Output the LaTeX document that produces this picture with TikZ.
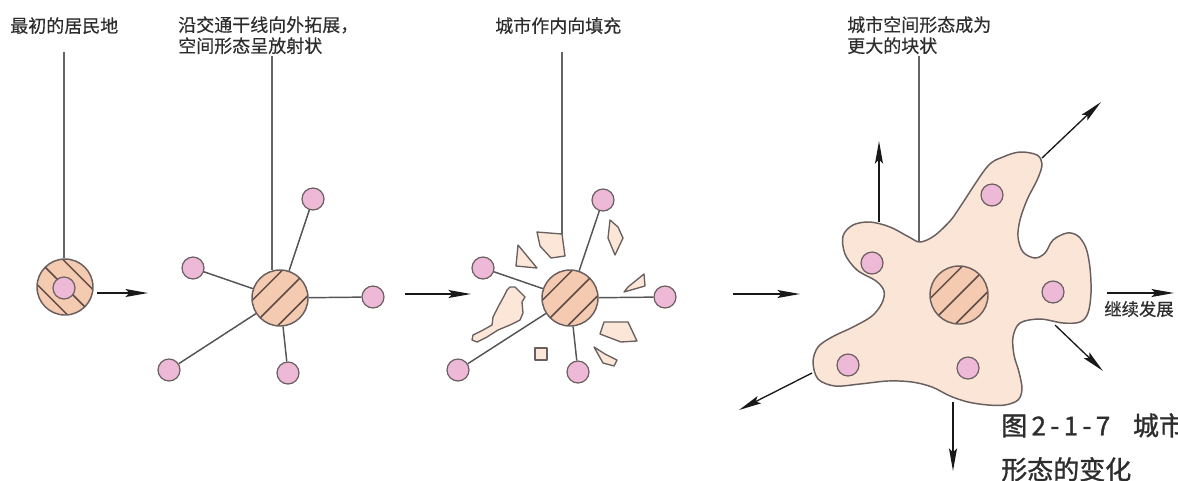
\documentclass[tikz,border=0pt]{standalone}
\usepackage{fontspec}
\setmainfont{Noto Sans CJK SC}
\newfontfamily\lblfont[FakeBold=0.4]{Noto Sans CJK SC}
\newfontfamily\capfont[FakeBold=1.2]{Noto Sans CJK SC}
\usetikzlibrary{arrows.meta,calc}
\definecolor{peach}{RGB}{244,202,176}
\definecolor{blobfill}{RGB}{251,229,214}
\definecolor{fragfill}{RGB}{251,230,216}
\definecolor{pinkc}{RGB}{238,184,215}
\definecolor{edge}{RGB}{105,95,95}
\definecolor{hatchcol}{RGB}{95,75,70}
\definecolor{conncol}{RGB}{85,85,85}
\definecolor{leadcol}{RGB}{100,100,100}
\definecolor{arrcol}{RGB}{25,25,25}
\definecolor{txt}{RGB}{45,45,45}
\begin{document}
\begin{tikzpicture}[x=0.75pt,y=-0.75pt,
  hub/.style={circle, draw=edge, fill=peach, line width=1.1pt, minimum size=42pt, inner sep=0pt},
  bighub/.style={hub, minimum size=43.5pt},
  hatchline/.style={draw=hatchcol, line width=1.1pt},
  hatchR/.style={path picture={\foreach \d in {-18,0,18}{\draw[hatchline] ([shift={({\d*0.707-34},{\d*0.707+34})}]path picture bounding box.center) -- ([shift={({\d*0.707+34},{\d*0.707-34})}]path picture bounding box.center);}}},
  hatchL/.style={path picture={\foreach \d in {-18,0,18}{\draw[hatchline] ([shift={({\d*0.707-34},{-\d*0.707-34})}]path picture bounding box.center) -- ([shift={({\d*0.707+34},{-\d*0.707+34})}]path picture bounding box.center);}}},
  sat/.style={circle, draw=edge, fill=pinkc, line width=0.9pt, minimum size=16.5pt, inner sep=0pt},
  conn/.style={draw=conncol, line width=1.1pt},
  lead/.style={draw=leadcol, line width=0.9pt},
  arr/.style={draw=arrcol, line width=1pt, -{Stealth[length=17pt,width=6pt,inset=3pt]}},
  frag/.style={draw=edge, fill=fragfill, line width=1pt, line join=round},
  blobst/.style={draw=edge, fill=blobfill, line width=1.1pt},
  lbl/.style={font=\lblfont\fontsize{13.5}{15.75}\selectfont, text=txt, inner sep=0pt, align=left, anchor=north west},
  caption/.style={font=\capfont\fontsize{19.5}{33}\selectfont, text=txt, inner sep=0pt, align=left, anchor=north west}
]
\useasboundingbox (0,0) rectangle (1178,480);

% ---------- Stage 1 ----------
\node[hub, hatchL] (h1) at (65,287) {};
\node[sat] (c1) at (64,288) {};
\node[lbl] (t1) at (10,17) {最初的居民地};
\coordinate (l1) at (64,52);
\draw[lead] (l1) -- (l1 |- h1.north);
\coordinate (a1s) at (97,293);
\coordinate (a1e) at (148,293);
\draw[arr] (a1s) -- (a1e);

% ---------- Stage 2 ----------
\node[hub, hatchR] (h2) at (280,298) {};
\node[sat] (s2a) at (313,199) {};
\node[sat] (s2b) at (193,268) {};
\node[sat] (s2c) at (373,297) {};
\node[sat] (s2d) at (169,370) {};
\node[sat] (s2e) at (288,373) {};
\foreach \s in {s2a,s2b,s2c,s2d,s2e} \draw[conn] (h2) -- (\s);
\node[lbl] (t2) at (178,16) {沿交通干线向外拓展，\\空间形态呈放射状};
\coordinate (l2) at (272,56);
\draw[lead] (l2) -- (l2 |- h2.106);
\coordinate (a2s) at (405,294);
\coordinate (a2e) at (471,294);
\draw[arr] (a2s) -- (a2e);

% ---------- Stage 3 ----------
\draw[frag] (537,232) -- (562,234) -- (565,256) -- (551,258) -- (540,246) -- cycle;
\coordinate (f1top) at (562,234);
\draw[frag] (518,245) -- (537,268) -- (516,266) -- cycle;
\draw[frag] (610,220) -- (618,227) -- (623,238) -- (615,255) -- (608,238) -- cycle;
\draw[frag] (644,274) -- (645,286) -- (624,292) -- (628,287) -- cycle;
\draw[frag] (604,322) -- (628,322) -- (637,341) -- (621,342) -- (600,334) -- cycle;
\draw[frag] (594,347) -- (605,354) -- (617,360) -- (614,366) -- (603,363) -- cycle;
\draw[frag] (535,348) rectangle (547,360);
\draw[frag] (510,287) -- (515,287) -- (520,292) -- (525,297) -- (522,302) -- (523,313) -- (520,320) -- (510,325) -- (498,330) -- (487,337) -- (477,342) -- (472,340) -- (473,335) -- (483,330) -- (492,325) -- (493,317) -- (498,307) -- (503,298) -- (507,290) -- cycle;
\node[hub, hatchR] (h3) at (570,298) {};
\node[sat] (s3a) at (603,200) {};
\node[sat] (s3b) at (483,268) {};
\node[sat] (s3c) at (665,297) {};
\node[sat] (s3d) at (458,370) {};
\node[sat] (s3e) at (578,372) {};
\foreach \s in {s3a,s3b,s3c,s3d,s3e} \draw[conn] (h3) -- (\s);
\node[lbl] (t3) at (495,17) {城市作内向填充};
\coordinate (l3) at (562,52);
\draw[lead] (l3) -- (f1top);
\coordinate (a3s) at (733,294);
\coordinate (a3e) at (800,294);
\draw[arr] (a3s) -- (a3e);

% ---------- Stage 4 ----------
\draw[blobst] plot[smooth cycle, tension=0.55] coordinates {
 (960,207) (987,167) (1003,157) (1020,152) (1037,155) (1042,164) (1038,178)
 (1027,200) (1020,220) (1018,237) (1023,252) (1035,258) (1045,253) (1053,240)
 (1067,233) (1078,236) (1086,248) (1090,268) (1091,293) (1088,313) (1080,322)
 (1063,323) (1040,319) (1020,323) (1013,337) (1014,355) (1019,372) (1022,389)
 (1018,400) (1005,405) (988,405) (968,402) (950,396) (932,387) (912,382)
 (888,381) (860,384) (835,386) (818,379) (813,362) (818,347) (832,337)
 (853,327) (872,316) (882,303) (884,291) (876,281) (857,270) (845,254)
 (843,236) (853,225) (870,222) (890,227) (909,237) (920,242) (934,236) (950,221)};
\coordinate (b4top) at (919,242);
\node[bighub, hatchR] (h4) at (959,295) {};
\node[sat] (s4a) at (992,195) {};
\node[sat] (s4b) at (872,263) {};
\node[sat] (s4c) at (1053,292) {};
\node[sat] (s4d) at (848,365) {};
\node[sat] (s4e) at (968,368) {};
\node[lbl] (t4) at (847,16) {城市空间形态成为\\更大的块状};
\coordinate (l4) at (919,56);
\draw[lead] (l4) -- (b4top);
\coordinate (e1s) at (879,222);  \coordinate (e1e) at (879,141);
\coordinate (e2s) at (1042,158); \coordinate (e2e) at (1101,102);
\coordinate (e3s) at (1107,293); \coordinate (e3e) at (1174,293);
\coordinate (e4s) at (1055,325); \coordinate (e4e) at (1103,371);
\coordinate (e5s) at (812,373);  \coordinate (e5e) at (739,410);
\coordinate (e6s) at (953,402);  \coordinate (e6e) at (953,471);
\foreach \i in {1,...,6} \draw[arr] (e\i s) -- (e\i e);
\node[font=\lblfont\fontsize{13}{15}\selectfont, text=txt, inner sep=0pt] (t5) at (1139,309) {继续发展};

% ---------- Caption ----------
\node[caption] (cap) at (1001,413) {图\,2\,-\,1\,-\,7\hspace{17pt}城市\\形态的变化};
\end{tikzpicture}
\end{document}
